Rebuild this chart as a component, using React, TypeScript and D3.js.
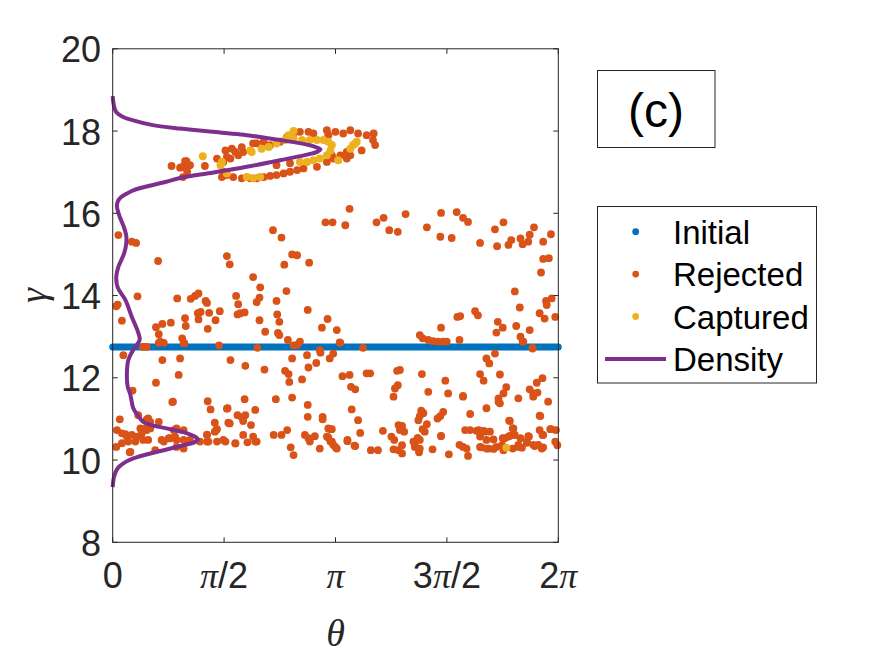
import * as d3 from 'd3';

const PI = Math.PI;

// axis ticks
const xTicks = [0, PI / 2, PI, (3 * PI) / 2, 2 * PI];
const xTickLabels = ['0', 'π/2', 'π', '3π/2', '2π'];
const yTicks = [8, 10, 12, 14, 16, 18, 20];

// initial condition: a row of points at one gamma across the whole theta range
const initialGamma = 12.75;
const initialTheta = [0, 2 * PI];

// [theta, gamma]
const rejected: [number, number][] = [
  [0.08, 15.47], [0.27, 15.31], [0.33, 15.28], [0.64, 14.84], [0.35, 13.98], [0.05, 13.74], [0.07, 13.78],
  [0.13, 13.39], [0.61, 13.23], [0.65, 13.06], [0.7, 13.31], [0.82, 13.34], [0.65, 12.85], [0.72, 12.85],
  [0.48, 12.75], [0.91, 13.93], [1.1, 13.92], [1.16, 13.99], [1.21, 14.05], [1.31, 13.87], [1.33, 13.82],
  [1.2, 13.57], [1.24, 13.6], [1.36, 13.58], [1.51, 13.62], [1.21, 13.42], [1.02, 13.45], [1.03, 13.26],
  [1.45, 13.4], [1.34, 13.19], [0.98, 12.96], [1.01, 12.84], [1.5, 12.79], [1.61, 14.96], [1.65, 14.76],
  [1.74, 13.99], [1.77, 13.79], [1.8, 13.57], [1.86, 13.59], [1.76, 13.54], [1.98, 14.45], [2.08, 14.2],
  [2.07, 13.95], [2.03, 13.84], [2.07, 13.4], [2.15, 13.12], [2.26, 15.59], [2.38, 15.41], [2.53, 15.0],
  [2.6, 14.98], [2.42, 14.75], [2.77, 14.8], [2.45, 14.11], [2.31, 13.87], [2.32, 13.54], [2.35, 13.36],
  [2.33, 13.09], [2.35, 13.04], [2.47, 12.92], [2.64, 12.88], [2.6, 12.8], [2.75, 13.65], [3.03, 13.43],
  [2.95, 13.22], [3.16, 13.16], [3.2, 12.86], [3.34, 16.11], [3.0, 15.78], [3.1, 15.78], [3.28, 15.71],
  [3.53, 12.73], [3.72, 15.78], [3.82, 15.89], [3.9, 15.59], [4.02, 15.55], [4.13, 15.98], [4.43, 15.66],
  [4.63, 16.01], [4.85, 16.03], [4.94, 15.89], [5.01, 15.79], [4.62, 15.43], [4.78, 15.4], [5.18, 15.28],
  [5.39, 15.61], [5.51, 15.78], [5.42, 15.2], [5.58, 15.23], [5.62, 15.35], [5.75, 15.39], [5.78, 15.25],
  [5.86, 15.31], [5.88, 15.48], [5.94, 15.66], [6.07, 15.31], [6.18, 15.49], [6.07, 14.89], [6.15, 14.91],
  [6.04, 14.56], [5.67, 14.1], [5.74, 13.71], [6.11, 13.87], [6.12, 13.77], [6.19, 13.93], [6.02, 13.57],
  [6.09, 13.44], [6.24, 13.48], [5.11, 13.62], [5.15, 13.52], [4.86, 13.48], [4.9, 13.5], [5.43, 13.36],
  [5.5, 13.22], [5.41, 13.1], [5.69, 13.26], [5.88, 13.16], [5.75, 13.0], [5.79, 12.88], [5.92, 12.73],
  [4.63, 13.22], [4.89, 12.92], [4.33, 13.04], [4.37, 12.96], [4.45, 12.92], [4.52, 12.89], [4.59, 12.88],
  [4.66, 12.88], [4.71, 12.88], [2.04, 12.73], [0.43, 12.75], [2.92, 12.67],
  // upper cluster
  [1.02, 17.27], [1.09, 17.17], [0.98, 17.13], [1.04, 17.09], [1.3, 17.15], [1.47, 17.33], [1.59, 17.53],
  [1.68, 17.57], [1.73, 17.49], [1.82, 17.61], [1.84, 17.49], [1.77, 17.41], [1.66, 17.33], [1.56, 17.25],
  [1.61, 17.37], [2.03, 17.7], [2.13, 17.74], [2.22, 17.66], [2.36, 17.74], [2.46, 17.86], [2.55, 17.94],
  [2.64, 17.98], [2.76, 17.98], [2.83, 17.94], [3.02, 18.02], [3.04, 17.9], [3.14, 17.98], [3.25, 17.94],
  [3.35, 18.02], [3.46, 17.94], [3.58, 17.9], [3.68, 17.94], [3.67, 17.78], [3.7, 17.66], [3.51, 17.53],
  [3.35, 17.41], [3.3, 17.49], [3.21, 17.41], [3.11, 17.33], [3.02, 17.25], [2.88, 17.13], [2.69, 17.09],
  [2.6, 17.05], [2.5, 17.01], [2.41, 16.97], [2.31, 16.93], [2.22, 16.91], [2.13, 16.88], [2.03, 16.85],
  [1.94, 16.85], [1.82, 16.85], [1.7, 16.88], [1.61, 16.93], [1.54, 16.88], [1.56, 17.01], [3.3, 17.33],
  [3.09, 17.41], [0.83, 17.15], [0.95, 17.11], [1.04, 17.27], [1.05, 17.01], [0.99, 16.88], [2.31, 17.17],
  [2.5, 17.22], [1.98, 17.7],
  // lower half
  [0.15, 12.55], [0.7, 12.43], [0.95, 12.47], [0.93, 12.07], [0.61, 11.88], [0.28, 11.69], [0.84, 11.41],
  [0.67, 12.88], [1.0, 12.84], [1.66, 12.43], [1.87, 12.29], [2.14, 12.2], [2.43, 12.17], [2.48, 12.09],
  [2.49, 11.9], [2.67, 11.96], [2.53, 12.47], [2.74, 12.55], [2.76, 12.25], [2.87, 12.36], [2.93, 12.61],
  [3.06, 12.47], [3.11, 12.59], [3.21, 12.85], [2.55, 12.79], [3.24, 12.04], [3.34, 12.07], [3.36, 11.78],
  [3.42, 11.72], [3.58, 12.11], [3.63, 12.11], [4.01, 12.17], [4.05, 12.19], [4.02, 11.82], [3.98, 11.74],
  [4.36, 12.09], [4.69, 11.93], [5.18, 12.09], [5.23, 11.93], [5.27, 12.47], [5.31, 12.35], [5.39, 12.59],
  [5.46, 12.08], [5.55, 11.77], [5.51, 11.62], [5.44, 11.5], [5.46, 11.38], [5.72, 11.5], [5.98, 11.88],
  [6.06, 11.99], [5.88, 11.72], [5.93, 11.62], [5.99, 11.64], [6.14, 11.42], [5.92, 12.71], [5.78, 12.88],
  [4.45, 11.66], [4.73, 11.62], [4.94, 11.56], [3.96, 11.54], [3.37, 11.23], [3.46, 10.97], [2.75, 11.34],
  [2.75, 11.05], [2.96, 11.05], [2.96, 10.99], [3.07, 10.75], [2.53, 11.52], [2.3, 11.48], [1.86, 11.48],
  [1.34, 11.43], [1.38, 11.23], [1.61, 11.25], [1.76, 11.09], [1.82, 11.04], [1.87, 11.09], [1.84, 10.95],
  [2.01, 11.22], [1.44, 10.91], [1.63, 10.91], [1.95, 10.85], [2.46, 10.73], [2.38, 10.61], [2.27, 10.61],
  [1.84, 10.61], [1.98, 10.57], [2.01, 10.45], [1.73, 10.41], [1.33, 10.62], [1.44, 10.69], [1.47, 10.75],
  [2.71, 10.61], [2.76, 10.53], [2.78, 10.45], [2.85, 10.58], [3.04, 10.55], [3.07, 10.45], [3.11, 10.37],
  [3.16, 10.28], [2.92, 10.28], [2.51, 10.31], [2.55, 10.12], [3.31, 10.49], [3.49, 10.66], [3.42, 10.34],
  [3.64, 10.24], [3.74, 10.24], [3.81, 10.71], [3.93, 10.57], [3.97, 10.49], [4.03, 10.85], [4.08, 10.83],
  [4.11, 10.69], [4.05, 10.73], [3.96, 10.26], [4.03, 10.24], [4.08, 10.36], [4.08, 10.16], [4.24, 10.45],
  [4.26, 10.32], [4.33, 10.49], [4.32, 10.24], [4.31, 10.97], [4.36, 11.17], [4.33, 11.07], [4.37, 10.75],
  [4.4, 10.69], [4.58, 11.01], [4.66, 11.17], [4.62, 11.07], [4.63, 10.58], [4.51, 10.26], [4.74, 10.14],
  [5.01, 10.1], [4.89, 10.37], [4.94, 10.32], [4.99, 10.28], [5.04, 11.12], [5.27, 11.26], [4.97, 10.73],
  [5.04, 10.73], [5.13, 10.71], [5.23, 10.71], [5.32, 10.69], [5.18, 10.57], [5.27, 10.49], [5.37, 10.5],
  [5.2, 10.31], [5.3, 10.28], [5.41, 10.32], [5.5, 10.53], [5.58, 10.57], [5.65, 10.61], [5.59, 10.96],
  [5.65, 10.77], [5.75, 10.53], [5.84, 10.42], [5.86, 10.58], [6.03, 11.07], [6.02, 10.73], [6.07, 10.61],
  [6.17, 10.75], [6.25, 10.73], [5.95, 10.34], [6.07, 10.31], [6.24, 10.45], [5.64, 10.28], [5.72, 10.32],
  [5.49, 10.36], [5.51, 10.24], [5.77, 10.3], [5.87, 10.57], [5.84, 10.45], [5.93, 10.37], [6.0, 10.37],
  [6.05, 10.28], [6.02, 11.08], [6.06, 10.61], [6.18, 10.75], [6.27, 10.36], [5.93, 11.54], [5.44, 11.42],
  [4.94, 11.54], [5.6, 10.95], [5.64, 10.77],
  // left cluster near gamma 10.5
  [0.1, 10.99], [0.06, 10.73], [0.13, 10.65], [0.2, 10.57], [0.27, 10.61], [0.34, 10.57], [0.41, 10.65],
  [0.48, 10.73], [0.53, 10.77], [0.43, 10.49], [0.32, 10.45], [0.22, 10.45], [0.13, 10.41], [0.05, 10.32],
  [0.25, 10.2], [0.6, 10.24], [0.65, 10.93], [0.53, 10.93], [0.39, 10.77], [0.81, 10.53], [0.9, 10.49],
  [1.0, 10.49], [1.09, 10.49], [1.23, 10.45], [1.33, 10.45], [1.47, 10.45], [1.56, 10.49], [0.72, 10.45],
  [0.9, 10.32], [1.0, 10.28], [0.48, 10.99], [1.0, 10.73], [0.86, 10.73], [0.18, 10.63], [0.46, 10.77],
  [0.5, 10.49], [0.24, 10.19], [0.36, 11.09], [0.5, 11.01], [0.69, 10.49], [0.79, 10.53], [0.88, 10.57],
  [0.9, 10.77], [0.85, 11.42], [1.62, 11.26], [1.65, 10.89], [1.35, 10.45], [1.59, 10.45], [1.73, 10.4],
  [1.9, 10.43], [2.03, 10.45], [1.46, 10.73], [1.33, 10.61], [3.02, 10.57], [3.04, 10.77],
  [3.09, 10.75], [3.09, 10.45], [3.14, 10.32], [3.31, 10.46], [3.41, 10.35], [4.35, 11.2], [4.38, 11.14],
  [4.43, 10.87], [4.3, 10.54], [4.26, 10.38], [4.33, 10.28], [4.32, 10.19], [4.63, 10.59], [5.16, 10.73],
  [5.25, 10.69], [5.18, 10.32], [5.27, 10.28], [5.37, 10.27], [5.53, 10.53], [5.6, 10.59], [5.67, 10.61],
  [5.72, 10.37],
];

const captured: [number, number][] = [
  [1.27, 17.39], [1.54, 17.25], [1.52, 17.17], [1.61, 16.97], [1.89, 16.88], [1.98, 16.85], [2.08, 16.88],
  [1.94, 17.53], [2.1, 17.57], [2.2, 17.61], [2.31, 17.7], [2.43, 17.78], [2.55, 17.82], [2.55, 18.0],
  [2.67, 17.78], [2.78, 17.78], [2.88, 17.78], [2.97, 17.78], [3.04, 17.74], [3.09, 17.66], [3.07, 17.53],
  [3.02, 17.41], [2.92, 17.33], [2.83, 17.29], [2.74, 17.25], [2.64, 17.25], [3.18, 17.29], [3.39, 17.66],
  [3.44, 17.74], [3.35, 17.57], [2.48, 17.9], [1.96, 17.49], [3.42, 17.7], [5.55, 10.3],
];

// density profile along gamma: [gamma, value drawn on the theta axis]
const density: [number, number][] = [
  [18.85, 0], [18.75, 0.005], [18.6, 0.02], [18.46, 0.05], [18.35, 0.14], [18.26, 0.29], [18.15, 0.55],
  [18.06, 0.95], [17.9, 1.89], [17.78, 2.36], [17.67, 2.74], [17.6, 2.88], [17.55, 2.93], [17.5, 2.89],
  [17.45, 2.8], [17.29, 2.36], [17.13, 1.89], [16.99, 1.42], [16.86, 0.95], [16.76, 0.74], [16.56, 0.29],
  [16.48, 0.2], [16.38, 0.11], [16.28, 0.07], [16.16, 0.06], [15.91, 0.1], [15.7, 0.15], [15.47, 0.19],
  [15.25, 0.19], [15.02, 0.16], [14.7, 0.08], [14.45, 0.05], [14.2, 0.07], [13.89, 0.18], [13.48, 0.27],
  [13.1, 0.36], [12.92, 0.38], [12.68, 0.29], [12.43, 0.22], [12.1, 0.2], [11.8, 0.21], [11.58, 0.25],
  [11.26, 0.29], [11.1, 0.35], [10.93, 0.43], [10.85, 0.55], [10.77, 0.76], [10.65, 1.05], [10.58, 1.15],
  [10.5, 1.2], [10.43, 1.15], [10.36, 1.0], [10.22, 0.67], [10.04, 0.29], [9.92, 0.15], [9.8, 0.07],
  [9.6, 0.02], [9.34, 0],
];

const legendItems = [
  { label: 'Initial', color: '#0072BD', kind: 'dot' },
  { label: 'Rejected', color: '#D95319', kind: 'dot' },
  { label: 'Captured', color: '#EDB120', kind: 'dot' },
  { label: 'Density', color: '#7E2F8E', kind: 'line' },
];

const W = 875;
const H = 656;
const left = 112.7;
const right = 558.3;
const top = 48.8;
const bottom = 542.3;
const axisColor = '#262626';
const font = '"Liberation Sans", Arial, Helvetica, sans-serif';
const mathFont = '"Liberation Serif", "DejaVu Serif", serif';

export default function App() {
  const x = d3.scaleLinear().domain([0, 2 * PI]).range([left, right]);
  const y = d3.scaleLinear().domain([8, 20]).range([bottom, top]);

  const densityLine = d3
    .line<[number, number]>()
    .x((d) => x(d[1]))
    .y((d) => y(d[0]))
    .curve(d3.curveCatmullRom.alpha(0.5));

  const tickLen = 5;

  return (
    <svg
      width={W}
      height={H}
      style={{ position: 'absolute', left: 0, top: 0, background: '#fff' }}
    >
      <rect x={0} y={0} width={W} height={H} fill="#fff" />

      {/* initial points: dense row, drawn as round-capped stroke */}
      <line
        x1={x(initialTheta[0])}
        x2={x(initialTheta[1])}
        y1={y(initialGamma)}
        y2={y(initialGamma)}
        stroke="#0072BD"
        strokeWidth={7}
        strokeLinecap="round"
      />

      {rejected.map((d, i) => (
        <circle key={'r' + i} cx={x(d[0])} cy={y(d[1])} r={3.9} fill="#D95319" />
      ))}
      {captured.map((d, i) => (
        <circle key={'c' + i} cx={x(d[0])} cy={y(d[1])} r={4} fill="#EDB120" />
      ))}

      <path d={densityLine(density) ?? ''} fill="none" stroke="#7E2F8E" strokeWidth={4} />

      {/* axes box */}
      <rect
        x={left}
        y={top}
        width={right - left}
        height={bottom - top}
        fill="none"
        stroke={axisColor}
        strokeWidth={1}
      />
      {xTicks.map((t, i) => (
        <g key={'xt' + i}>
          <line x1={x(t)} x2={x(t)} y1={bottom} y2={bottom - tickLen} stroke={axisColor} />
          <line x1={x(t)} x2={x(t)} y1={top} y2={top + tickLen} stroke={axisColor} />
          <text
            x={x(t)}
            y={588}
            textAnchor="middle"
            fontFamily={font}
            fontSize={36}
            fill={axisColor}
          >
            {xTickLabels[i].split(/(π)/).map((part, j) =>
              part === 'π' ? (
                <tspan key={j} fontFamily={mathFont} fontStyle="italic">
                  π
                </tspan>
              ) : (
                <tspan key={j}>{part}</tspan>
              ),
            )}
          </text>
        </g>
      ))}
      {yTicks.map((t) => (
        <g key={'yt' + t}>
          <line x1={left} x2={left + tickLen} y1={y(t)} y2={y(t)} stroke={axisColor} />
          <line x1={right} x2={right - tickLen} y1={y(t)} y2={y(t)} stroke={axisColor} />
          <text
            x={101}
            y={y(t) + 13.5}
            textAnchor="end"
            fontFamily={font}
            fontSize={36}
            fill={axisColor}
          >
            {t}
          </text>
        </g>
      ))}

      {/* axis labels */}
      <text
        x={335.5}
        y={646}
        textAnchor="middle"
        fontFamily={mathFont}
        fontStyle="italic"
        fontSize={38}
        fill={axisColor}
      >
        θ
      </text>
      <text
        transform={`translate(46,${(top + bottom) / 2}) rotate(-90)`}
        textAnchor="middle"
        fontFamily={mathFont}
        fontStyle="italic"
        fontSize={38}
        fill={axisColor}
      >
        γ
      </text>

      {/* panel tag */}
      <rect x={597.5} y={70.5} width={117.5} height={77} fill="#fff" stroke={axisColor} strokeWidth={1} />
      <text x={656} y={127} textAnchor="middle" fontFamily={font} fontSize={48} fill="#000">
        (c)
      </text>

      {/* legend */}
      <rect x={597.5} y={206.5} width={219} height={176.5} fill="#fff" stroke={axisColor} strokeWidth={1} />
      {legendItems.map((item, i) => {
        const cy = 231.7 + i * 42.4;
        return (
          <g key={item.label}>
            {item.kind === 'dot' ? (
              <circle cx={635.7} cy={cy} r={3.4} fill={item.color} />
            ) : (
              <line x1={605} x2={666} y1={cy} y2={cy} stroke={item.color} strokeWidth={4} />
            )}
            <text x={673} y={cy + 12} fontFamily={font} fontSize={33} fill="#000">
              {item.label}
            </text>
          </g>
        );
      })}
    </svg>
  );
}
